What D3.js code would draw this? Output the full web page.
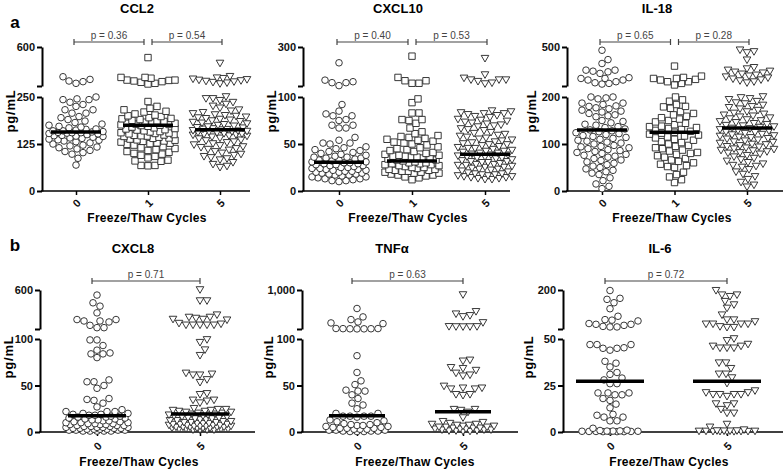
<!DOCTYPE html>
<html><head><meta charset="utf-8">
<script src="https://cdn.jsdelivr.net/npm/d3@7"></script>
<style>body{margin:0;background:#fff}</style>
</head><body>
<svg id="c" width="784" height="470"></svg>
<script>
// ---------------- DATA ----------------
const cats3 = ["0", "1", "5"];
const cats2 = ["0", "5"];

const ccl2_0 = [333,309,295,289,274,250,245,243,243,236,230,225,216,216,207,207,198,195,190,186,182,178,175,172,170,168,165,164,162,160,160,158,157,156,155,155,154,153,152,150,148,147,146,145,143,141,140,138,136,135,133,131,128,125,122,120,117,115,112,108,105,102,98,87,69];
const ccl2_1 = [505,327,327,320,303,303,300,295,289,283,274,268,238,225,220,216,212,210,205,202,200,198,195,193,192,190,188,186,185,183,182,180,180,178,177,176,175,174,172,170,168,166,165,163,162,160,158,157,155,154,153,152,150,149,148,147,146,145,143,141,140,138,136,135,133,132,130,128,127,126,124,122,118,115,113,110,108,105,103,100,98,95,92,88,82,80,79,68,67,68];
const ccl2_5 = [452,333,320,315,310,305,300,295,290,285,280,275,268,250,245,245,240,235,230,225,220,215,212,208,205,202,200,198,196,194,192,190,188,186,184,182,180,178,176,174,172,170,168,167,165,164,163,162,160,159,158,157,156,155,154,152,151,150,149,148,146,145,143,140,138,135,133,130,128,125,122,120,117,115,112,110,108,104,100,97,94,91,88,85,82,75,70,65,62];

const cxcl10_0 = [219,130,122,117,117,102,92,85,82,80,80,76,75,70,70,67,67,57,54,51,51,50,47,46,45,44,43,42,41,40,39,38,37,36,36,35,35,34,33,33,32,31,31,30,30,29,29,28,28,27,27,26,25,25,24,24,23,23,22,22,21,21,20,20,19,19,18,18,17,17,16,15,15,14,13,13,12,11,11,10];
const cxcl10_1 = [253,144,127,127,114,114,98,94,83,83,76,76,75,72,67,63,61,59,58,57,56,55,54,53,52,51,50,49,47,46,45,44,43,42,41,40,39,38,38,37,37,36,36,35,35,34,33,33,32,31,30,30,29,29,28,28,27,27,26,25,25,24,23,23,22,22,21,21,20,20,19,19,18,17,17,16,15,14,12];
const cxcl10_5 = [240,156,139,130,130,130,122,114,110,85,84,83,82,82,81,80,79,78,76,75,74,73,72,71,70,69,68,66,65,64,62,61,60,59,58,57,56,55,54,53,52,51,50,49,49,48,47,46,45,45,44,43,42,42,41,40,40,39,38,38,37,36,36,35,35,34,33,32,31,31,30,30,29,28,28,27,27,26,25,25,24,23,23,22,21,20,19,18,18,17,17,16,16,15,15,14,14,13,13,12,12];

const il18_0 = [475,403,373,322,322,314,309,297,264,258,258,246,246,233,225,220,215,200,200,198,196,187,187,184,181,180,177,175,172,170,168,165,162,160,158,150,148,145,142,140,137,135,132,130,128,126,124,122,120,118,116,114,112,110,108,106,104,102,100,97,95,94,92,90,88,86,84,82,80,78,76,74,72,69,66,65,62,59,56,53,50,47,44,41,38,35,28,22,15,10,5];
const il18_1 = [353,276,266,258,258,251,246,233,233,220,208,200,194,191,184,180,179,176,169,165,162,159,156,153,150,147,144,141,138,137,135,133,131,129,127,125,123,121,119,117,115,113,110,108,105,103,100,97,95,92,90,87,85,82,80,78,75,72,69,66,63,60,57,54,52,50,40,35,30,24,18];
const il18_5 = [475,462,454,398,340,330,320,312,305,298,290,282,275,268,260,252,245,238,230,222,200,198,196,194,190,187,185,182,179,177,174,171,168,165,163,161,159,157,155,153,151,149,147,145,143,141,139,138,136,135,133,132,130,128,127,125,124,122,120,119,117,116,114,113,111,110,108,106,104,103,101,99,98,96,94,93,91,89,88,86,85,83,81,80,78,75,72,69,66,63,60,57,54,52,50,45,40,35,30,24,18,12,8];

const cxcl8_0 = [535,436,393,307,221,221,203,203,190,147,117,117,99,99,93,88,85,84,84,80,56,54,54,50,47,36,35,34,31,27,24,22,22,22,20,20,19,19,18,18,17,17,16,16,15,15,14,14,13,13,12,12,11,11,10,10,10,9,9,9,8,8,8,7,7,7,6,6,6,5,5,5,5,4,4,4,4,3,3,3,3,2,2,2,2,1,1,1,1,1];
const cxcl8_5 = [600,458,458,277,247,247,234,221,221,212,169,160,147,147,147,147,147,99,96,88,82,63,62,61,61,56,53,41,40,34,34,33,31,25,24,24,23,23,22,22,21,21,20,20,19,19,18,18,17,17,16,16,15,15,14,14,13,13,12,12,11,11,10,10,10,9,9,9,8,8,8,7,7,7,7,6,6,6,6,5,5,5,5,5,4,4,4,4,3,3,3,3,2,2,2,2];

const tnf_0 = [573,379,317,263,240,224,112,110,108,106,105,104,103,82,64,55,51,45,44,44,40,36,31,29,25,20,20,17,17,17,17,16,13,12,11,10,9,8,8,7,7,6,6,5,5,4,4,4,3,3,3,2,2,2,1,1,1,0.5,0.5,0.5];
const tnf_5 = [884,496,441,403,379,240,150,148,146,145,144,77,76,69,68,66,63,61,60,49,47,47,46,46,40,40,39,24,24,23,21,15,11,10,9,8,8,7,7,6,6,5,5,5,4,4,4,3,3,3,2,2,2,1,1,1,0.5,0.5];

const il6_0 = [198,168,164,151,128,99,86,84,81,71,68,68,64,60,58,58,47,47,47,45.3,45,45,44,38,37,35,32,31,29,28,26,26,21,21,21,20,20,18,17,15,13,9.5,9,8,8,6,6,2,1,0.8,0.6,0.5,0.5,0.4,0.4,0.3,0.3,0.3,0.2,0.2,0.2,0.2];
const il6_5 = [197,180,180,174,155,142,129,103,84,84,77,68,68,68,68,58,55,55,50,49,47,46,46,45,45,45,37,37,34,31,31,29,26,22,21,21,20,20,20,20,19,15,15,14,12,10,10,4,2.5,1,0.5,0.5,0.4,0.4,0.3,0.3,0.3,0.2,0.2,0.2,0.2,0.1,0.1];

const medCCL2 = [157, 175, 163];
const medCXCL10 = [30.7, 32, 39];
const medIL18 = [130, 125, 134];
const medCXCL8 = [17.5, 19.3];
const medTNF = [17.5, 21.8];
const medIL6 = [27.3, 27.3];

const ticksCCL2 = [0, 125, 250, 600];
const ticksCXCL10 = [0, 50, 100, 300];
const ticksIL18 = [0, 100, 200, 500];
const ticksCXCL8 = [0, 50, 100, 600];
const ticksTNF = [0, 50, 100, 1000];
const ticksIL6 = [0, 25, 50, 200];

const pCCL2 = ["p = 0.36", "p = 0.54"];
const pCXCL10 = ["p = 0.40", "p = 0.53"];
const pIL18 = ["p = 0.65", "p = 0.28"];
const pCXCL8 = ["p = 0.71"];
const pTNF = ["p = 0.63"];
const pIL6 = ["p = 0.72"];

// ---------------- LAYOUT ----------------
const TOP = {y0: 191, yL: 97, yB: 86, yT: 47, titleY: 13, xlabY: 222, tickLabY: 203, pY: 42, yLabY: 111, medHW: 25, maxW: 27};
const BOT = {y0: 432, yL: 339, yB: 329, yT: 290, titleY: 253, xlabY: 466, tickLabY: 446, pY: 281, yLabY: 357, medHW: 29, maxW: 31};

const panels = [
  Object.assign({}, TOP, {title: "CCL2", cats: cats3, data: [ccl2_0, ccl2_1, ccl2_5], med: medCCL2, ticks: ticksCCL2, p: pCCL2, ax: 42, xEnd: 250, catX: [76, 220], titleX: 137, yLabX: 10, xLabX: 147}),
  Object.assign({}, TOP, {title: "CXCL10", cats: cats3, data: [cxcl10_0, cxcl10_1, cxcl10_5], med: medCXCL10, ticks: ticksCXCL10, p: pCXCL10, ax: 303, xEnd: 510, catX: [339, 485], titleX: 398, yLabX: 271, xLabX: 408}),
  Object.assign({}, TOP, {title: "IL-18", cats: cats3, data: [il18_0, il18_1, il18_5], med: medIL18, ticks: ticksIL18, p: pIL18, ax: 567, xEnd: 783, catX: [602, 747], titleX: 657, yLabX: 531, xLabX: 672}),
  Object.assign({}, BOT, {title: "CXCL8", cats: cats2, data: [cxcl8_0, cxcl8_5], med: medCXCL8, ticks: ticksCXCL8, p: pCXCL8, ax: 40, xEnd: 255, catX: [97, 200], titleX: 133, yLabX: 8, xLabX: 139, medHW: 29}),
  Object.assign({}, BOT, {title: "TNF\u03b1", cats: cats2, data: [tnf_0, tnf_5], med: medTNF, ticks: ticksTNF, p: pTNF, ax: 302, xEnd: 518, catX: [357, 463], titleX: 392, yLabX: 268, xLabX: 415, medHW: 28}),
  Object.assign({}, BOT, {title: "IL-6", cats: cats2, data: [il6_0, il6_5], med: medIL6, ticks: ticksIL6, p: pIL6, ax: 563, xEnd: 783, catX: [610, 727], titleX: 660, yLabX: 528, xLabX: 669, medHW: 34})
];

const FONT = "'Liberation Sans', Arial, Helvetica, sans-serif";
const svg = d3.select("#c");
svg.append("rect").attr("width", 784).attr("height", 470).attr("fill", "#fff");

const triPath = (function () { const w = 3.8, h = 3.3; return `M${-w},${-h}L${w},${-h}L0,${h}Z`; })();
const sqPath = "M-3.2,-3.2H3.2V3.2H-3.2Z";

function swarm(values, yf, d, maxW) {
  const pts = values.map(v => ({v: v, y: yf(v)})).sort((a, b) => b.y - a.y);
  const placed = [];
  for (const p of pts) {
    let best = 0, bestScore = -Infinity, done = false;
    for (let k = 0; k <= maxW && !done; k += 1) {
      const cands = k === 0 ? [0] : [k, -k];
      for (const s of cands) {
        let minD = Infinity;
        for (const q of placed) {
          const dy = q.y - p.y;
          if (Math.abs(dy) < d) {
            const dd = Math.hypot(q.dx - s, dy);
            if (dd < minD) minD = dd;
          }
        }
        if (minD >= d) { best = s; done = true; break; }
        if (minD > bestScore + 0.01) { bestScore = minD; best = s; }
      }
    }
    p.dx = best;
    placed.push(p);
  }
  return placed;
}

function drawPanel(P) {
  const g = svg.append("g");
  const L = P.ticks[2], U = P.ticks[3];
  const yLow = d3.scaleLinear().domain([0, L]).range([P.y0, P.yL]);
  const yUp = d3.scaleLinear().domain([L, U]).range([P.yB, P.yT]);
  const y = v => v <= L ? yLow(v) : yUp(v);
  const x = d3.scalePoint().domain(P.cats).range(P.catX);
  const fmt = d3.format(",");

  // y axis lower
  const gl = g.append("g").attr("transform", `translate(${P.ax},0)`)
    .call(d3.axisLeft(yLow).tickValues(P.ticks.slice(0, 3)).tickSize(5).tickSizeOuter(0).tickFormat(fmt));
  const gu = g.append("g").attr("transform", `translate(${P.ax},0)`)
    .call(d3.axisLeft(yUp).tickValues([L, U]).tickSize(5).tickSizeOuter(0).tickFormat(d => d === L ? "" : fmt(d)));
  [gl, gu].forEach(a => {
    a.select(".domain").attr("stroke", "#000").attr("stroke-width", 2);
    a.selectAll(".tick line").attr("stroke", "#000").attr("stroke-width", 2);
    a.selectAll(".tick text").attr("font-family", FONT).attr("font-size", 11).attr("font-weight", "bold").attr("fill", "#111").attr("x", -7);
  });

  // x axis
  g.append("line").attr("x1", P.ax - 1).attr("x2", P.xEnd).attr("y1", P.y0).attr("y2", P.y0)
    .attr("stroke", "#000").attr("stroke-width", 1.6);
  const gx = g.append("g").attr("transform", `translate(0,${P.y0})`)
    .call(d3.axisBottom(x).tickSize(4).tickSizeOuter(0));
  gx.select(".domain").remove();
  gx.selectAll(".tick line").attr("stroke", "#000").attr("stroke-width", 1.5);
  gx.selectAll(".tick text").attr("y", 0).attr("dy", 0)
    .attr("transform", `translate(0,${P.tickLabY - P.y0}) rotate(-45)`)
    .attr("text-anchor", "middle").attr("dominant-baseline", "central")
    .attr("font-family", FONT).attr("font-size", 11).attr("font-weight", "bold").attr("fill", "#111");

  // labels
  g.append("text").attr("x", P.titleX).attr("y", P.titleY).attr("text-anchor", "middle")
    .attr("font-family", FONT).attr("font-size", 13).attr("font-weight", "bold").text(P.title);
  g.append("text").attr("x", P.xLabX).attr("y", P.xlabY).attr("text-anchor", "middle")
    .attr("font-family", FONT).attr("font-size", 12).attr("font-weight", "bold").attr("letter-spacing", 0.3).text("Freeze/Thaw Cycles");
  g.append("text").attr("transform", `translate(${P.yLabX},${P.yLabY}) rotate(-90)`).attr("text-anchor", "middle")
    .attr("dominant-baseline", "central")
    .attr("font-family", FONT).attr("font-size", 13).attr("font-weight", "bold").attr("letter-spacing", 0.8).text("pg/mL");

  // p-value brackets
  const cx = P.cats.map(c => x(c));
  let brackets;
  if (P.cats.length === 3) brackets = [[cx[0] - 2, cx[1] - 4], [cx[1] + 4, cx[2] + 2]];
  else brackets = [[cx[0] - 5, cx[1]]];
  brackets.forEach((b, i) => {
    const bg = g.append("g").attr("stroke", "#444").attr("stroke-width", 1.2);
    bg.append("line").attr("x1", b[0]).attr("x2", b[1]).attr("y1", P.pY).attr("y2", P.pY);
    bg.append("line").attr("x1", b[0]).attr("x2", b[0]).attr("y1", P.pY - 3).attr("y2", P.pY + 3);
    bg.append("line").attr("x1", b[1]).attr("x2", b[1]).attr("y1", P.pY - 3).attr("y2", P.pY + 3);
    g.append("text").attr("x", (b[0] + b[1]) / 2).attr("y", P.pY - 3).attr("text-anchor", "middle")
      .attr("font-family", FONT).attr("font-size", 10).attr("fill", "#444").text(P.p[i]);
  });

  // points
  const shapes = P.cats.length === 3 ? ["circle", "square", "tri"] : ["circle", "tri"];
  P.data.forEach((vals, gi) => {
    const cxv = cx[gi];
    const pts = swarm(vals, y, 7, P.maxW);
    const shape = shapes[gi];
    const sel = g.append("g").selectAll("path").data(pts).join(shape === "circle" ? "circle" : "path");
    if (shape === "circle") {
      sel.attr("cx", d => cxv + d.dx).attr("cy", d => d.y).attr("r", 3.3);
    } else {
      sel.attr("d", shape === "square" ? sqPath : triPath).attr("transform", d => `translate(${cxv + d.dx},${d.y})`);
    }
    sel.attr("fill", "#fff").attr("stroke", "#222").attr("stroke-width", 0.9);
  });
  // medians
  P.med.forEach((m, gi) => {
    g.append("line").attr("x1", cx[gi] - P.medHW).attr("x2", cx[gi] + P.medHW)
      .attr("y1", y(m)).attr("y2", y(m)).attr("stroke", "#000").attr("stroke-width", 3.5);
  });
}

panels.forEach(drawPanel);

svg.append("text").attr("x", 15).attr("y", 28).attr("text-anchor", "middle")
  .attr("font-family", FONT).attr("font-size", 17).attr("font-weight", "bold").text("a");
svg.append("text").attr("x", 15).attr("y", 251).attr("text-anchor", "middle")
  .attr("font-family", FONT).attr("font-size", 17).attr("font-weight", "bold").text("b");
</script>
</body></html>
